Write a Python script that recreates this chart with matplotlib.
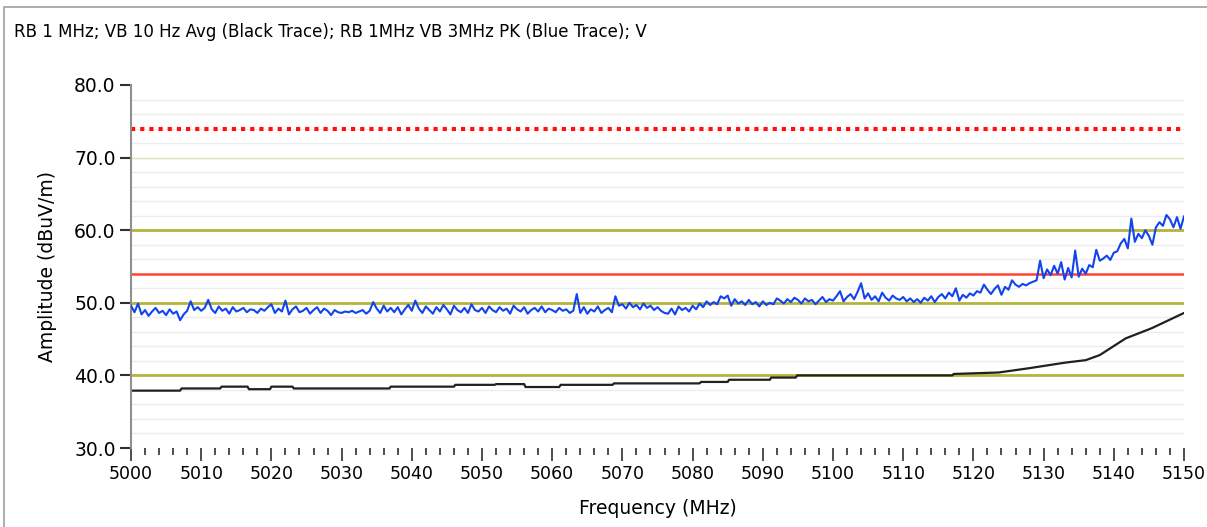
import numpy as np
import matplotlib.pyplot as plt
from matplotlib.patches import Rectangle
from matplotlib.ticker import MultipleLocator, FormatStrFormatter

title = "RB 1 MHz; VB 10 Hz Avg (Black Trace); RB 1MHz VB 3MHz PK (Blue Trace); V"

# peak trace (blue), one reading every 0.5 MHz from 5000 to 5150
blue_start, blue_step = 5000.0, 0.5
blue_amp = [
    49.6, 48.7, 49.9, 48.4, 49.0, 48.2, 48.8, 49.3, 48.6, 48.9, 48.3, 49.1, 48.5, 48.8, 47.6, 48.4, 48.9, 50.2, 49.0, 49.4,
    48.9, 49.3, 50.4, 49.1, 48.6, 49.5, 48.9, 49.2, 48.5, 49.4, 48.8, 49.0, 49.3, 48.7, 49.1, 49.0, 48.6, 49.2, 48.9, 49.4,
    49.8, 48.6, 49.2, 48.8, 50.3, 48.4, 49.1, 49.5, 48.7, 48.9, 49.3, 48.5, 49.0, 49.4, 48.6, 49.2, 48.9, 48.3, 49.0, 48.7,
    48.6, 48.8, 48.7, 48.9, 48.6, 48.8, 49.0, 48.5, 48.9, 50.1, 49.2, 48.6, 49.6, 48.8, 49.3, 48.7, 49.4, 48.4, 49.1, 49.7,
    48.9, 50.3, 49.2, 48.6, 49.5, 49.0, 48.5, 49.4, 48.8, 49.7, 49.1, 48.4, 49.6, 49.0, 48.7, 49.3, 48.6, 49.8, 49.0, 48.8,
    49.3, 48.6, 49.5, 49.0, 48.7, 49.4, 48.9, 49.2, 48.5, 49.6, 49.1, 48.8, 49.4, 48.5, 49.0, 49.3, 48.8, 49.5, 48.7, 49.2,
    49.0, 48.7, 49.3, 48.9, 49.1, 48.6, 48.9, 51.2, 48.6, 49.4, 48.5, 49.1, 48.8, 49.5, 48.6, 49.0, 49.3, 48.7, 50.9, 49.6,
    49.8, 49.2, 50.0, 49.4, 49.7, 49.1, 49.9, 49.3, 49.6, 49.0, 49.4, 48.9, 48.6, 48.5, 49.2, 48.4, 49.5, 49.0, 49.3, 48.8,
    49.6, 49.1, 49.9, 49.4, 50.2, 49.7, 50.1, 49.8, 50.9, 50.6, 51.0, 49.6, 50.5, 49.9, 50.2, 49.7, 50.4, 49.8, 50.1, 49.5,
    50.2, 49.7, 50.0, 49.8, 50.6, 50.3, 49.9, 50.5, 50.1, 50.7, 50.4, 49.9, 50.6, 50.2, 50.4, 49.8, 50.3, 50.8, 50.1, 50.5,
    50.3, 50.9, 51.6, 50.2, 50.8, 51.2, 50.5, 51.5, 52.7, 50.6, 51.3, 50.4, 50.9, 50.2, 51.4, 50.7, 50.3, 51.0, 50.6, 50.4,
    50.8, 50.2, 50.6, 50.1, 50.5, 50.0, 50.7, 50.3, 50.9, 50.1, 50.8, 51.2, 50.6, 51.4, 50.9, 52.0, 50.3, 51.1, 50.7, 51.3,
    51.0, 51.6, 51.4, 52.5, 51.8, 51.2, 51.9, 52.4, 51.1, 52.2, 51.8, 53.1, 52.5, 52.2, 52.6, 52.4, 52.7, 52.9, 53.1, 55.8,
    53.4, 54.6, 53.8, 55.1, 54.0, 55.6, 53.2, 54.8, 53.5, 57.2, 53.6, 54.7, 54.0, 55.2, 54.9, 57.3, 55.8, 56.1, 56.5, 55.9,
    56.9, 57.1, 58.2, 58.8, 57.5, 61.6, 58.4, 59.5, 58.9, 60.0, 59.2, 58.0, 60.4, 61.1, 60.6, 62.1, 61.5, 60.4, 61.8, 60.2,
    61.9,
]

# average trace (black), read as break points
black_freq = [5000, 5007, 5007.2, 5012.7, 5012.9, 5016.6, 5016.8, 5019.8, 5020, 5023, 5023.2, 5036.8, 5037,
              5046, 5046.2, 5051.8, 5052, 5056, 5056.2, 5061, 5061.2, 5068.6, 5068.8, 5081, 5081.2, 5085,
              5085.2, 5091, 5091.2, 5094.7, 5094.9, 5117, 5117.2, 5123.6, 5128, 5133, 5136, 5138, 5141.7,
              5145.4, 5150]
black_amp = [37.9, 37.9, 38.2, 38.2, 38.45, 38.45, 38.1, 38.1, 38.45, 38.45, 38.2, 38.2, 38.45,
             38.45, 38.7, 38.7, 38.8, 38.8, 38.4, 38.4, 38.7, 38.7, 38.9, 38.9, 39.1, 39.1,
             39.4, 39.4, 39.7, 39.7, 40.0, 40.0, 40.2, 40.4, 41.0, 41.75, 42.1, 42.8, 45.1,
             46.5, 48.6]

limit_peak = 74.0
limit_avg = 54.0
olive_lines = [40.0, 50.0, 60.0]

blue_freq = blue_start + blue_step * np.arange(len(blue_amp))

fig = plt.figure(figsize=(12.07, 5.27), dpi=100)
fig.patches.append(Rectangle((4 / 1207, -0.1), 1.2, 1.1 - 7 / 527, transform=fig.transFigure,
                             fill=False, edgecolor='#a0a0a0', linewidth=1.2))
fig.text(14 / 1207, 1 - 32 / 527, title, fontsize=12, va='center', ha='left')

ax = fig.add_axes([131 / 1207, 1 - 448 / 527, 1053 / 1207, 363 / 527])

# light gridlines every 2 dB, pale major line at 70
for y in np.arange(32, 80, 2):
    ax.axhline(y, color='#ececec', lw=1, zorder=0)
ax.axhline(70, color='#e4e4b8', lw=1, zorder=0)
for y in olive_lines:
    ax.axhline(y, color='#b4b43a', lw=2, zorder=1)
ax.axhline(limit_avg, color='#ff4433', lw=1.8, zorder=1)
ax.axhline(limit_peak, color='#ff1010', lw=3, linestyle=(0, (1, 1.2)), zorder=1)

ax.plot(black_freq, black_amp, color='#202020', lw=1.6, zorder=2)
ax.plot(blue_freq, blue_amp, color='#1144ee', lw=1.5, zorder=3)

ax.set_xlim(5000, 5150)
ax.set_ylim(30, 80)
for s in ['top', 'right', 'bottom']:
    ax.spines[s].set_visible(False)
ax.spines['left'].set_color('#909090')
ax.spines['left'].set_linewidth(1.5)

ax.xaxis.set_major_locator(MultipleLocator(10))
ax.xaxis.set_minor_locator(MultipleLocator(2))
ax.yaxis.set_major_locator(MultipleLocator(10))
ax.yaxis.set_major_formatter(FormatStrFormatter('%.1f'))
ax.tick_params(axis='x', which='major', length=9, width=1.2, color='#303030', labelsize=12.5, pad=3)
ax.tick_params(axis='x', which='minor', length=5, width=1.2, color='#303030')
ax.tick_params(axis='y', which='major', length=8, width=1.5, color='#303030', labelsize=13.5, pad=3)

ax.set_xlabel('Frequency (MHz)', fontsize=13.5, labelpad=12)
ax.set_ylabel('Amplitude (dBuV/m)', fontsize=13.5, labelpad=12)

fig.savefig('out.png', dpi=100)
